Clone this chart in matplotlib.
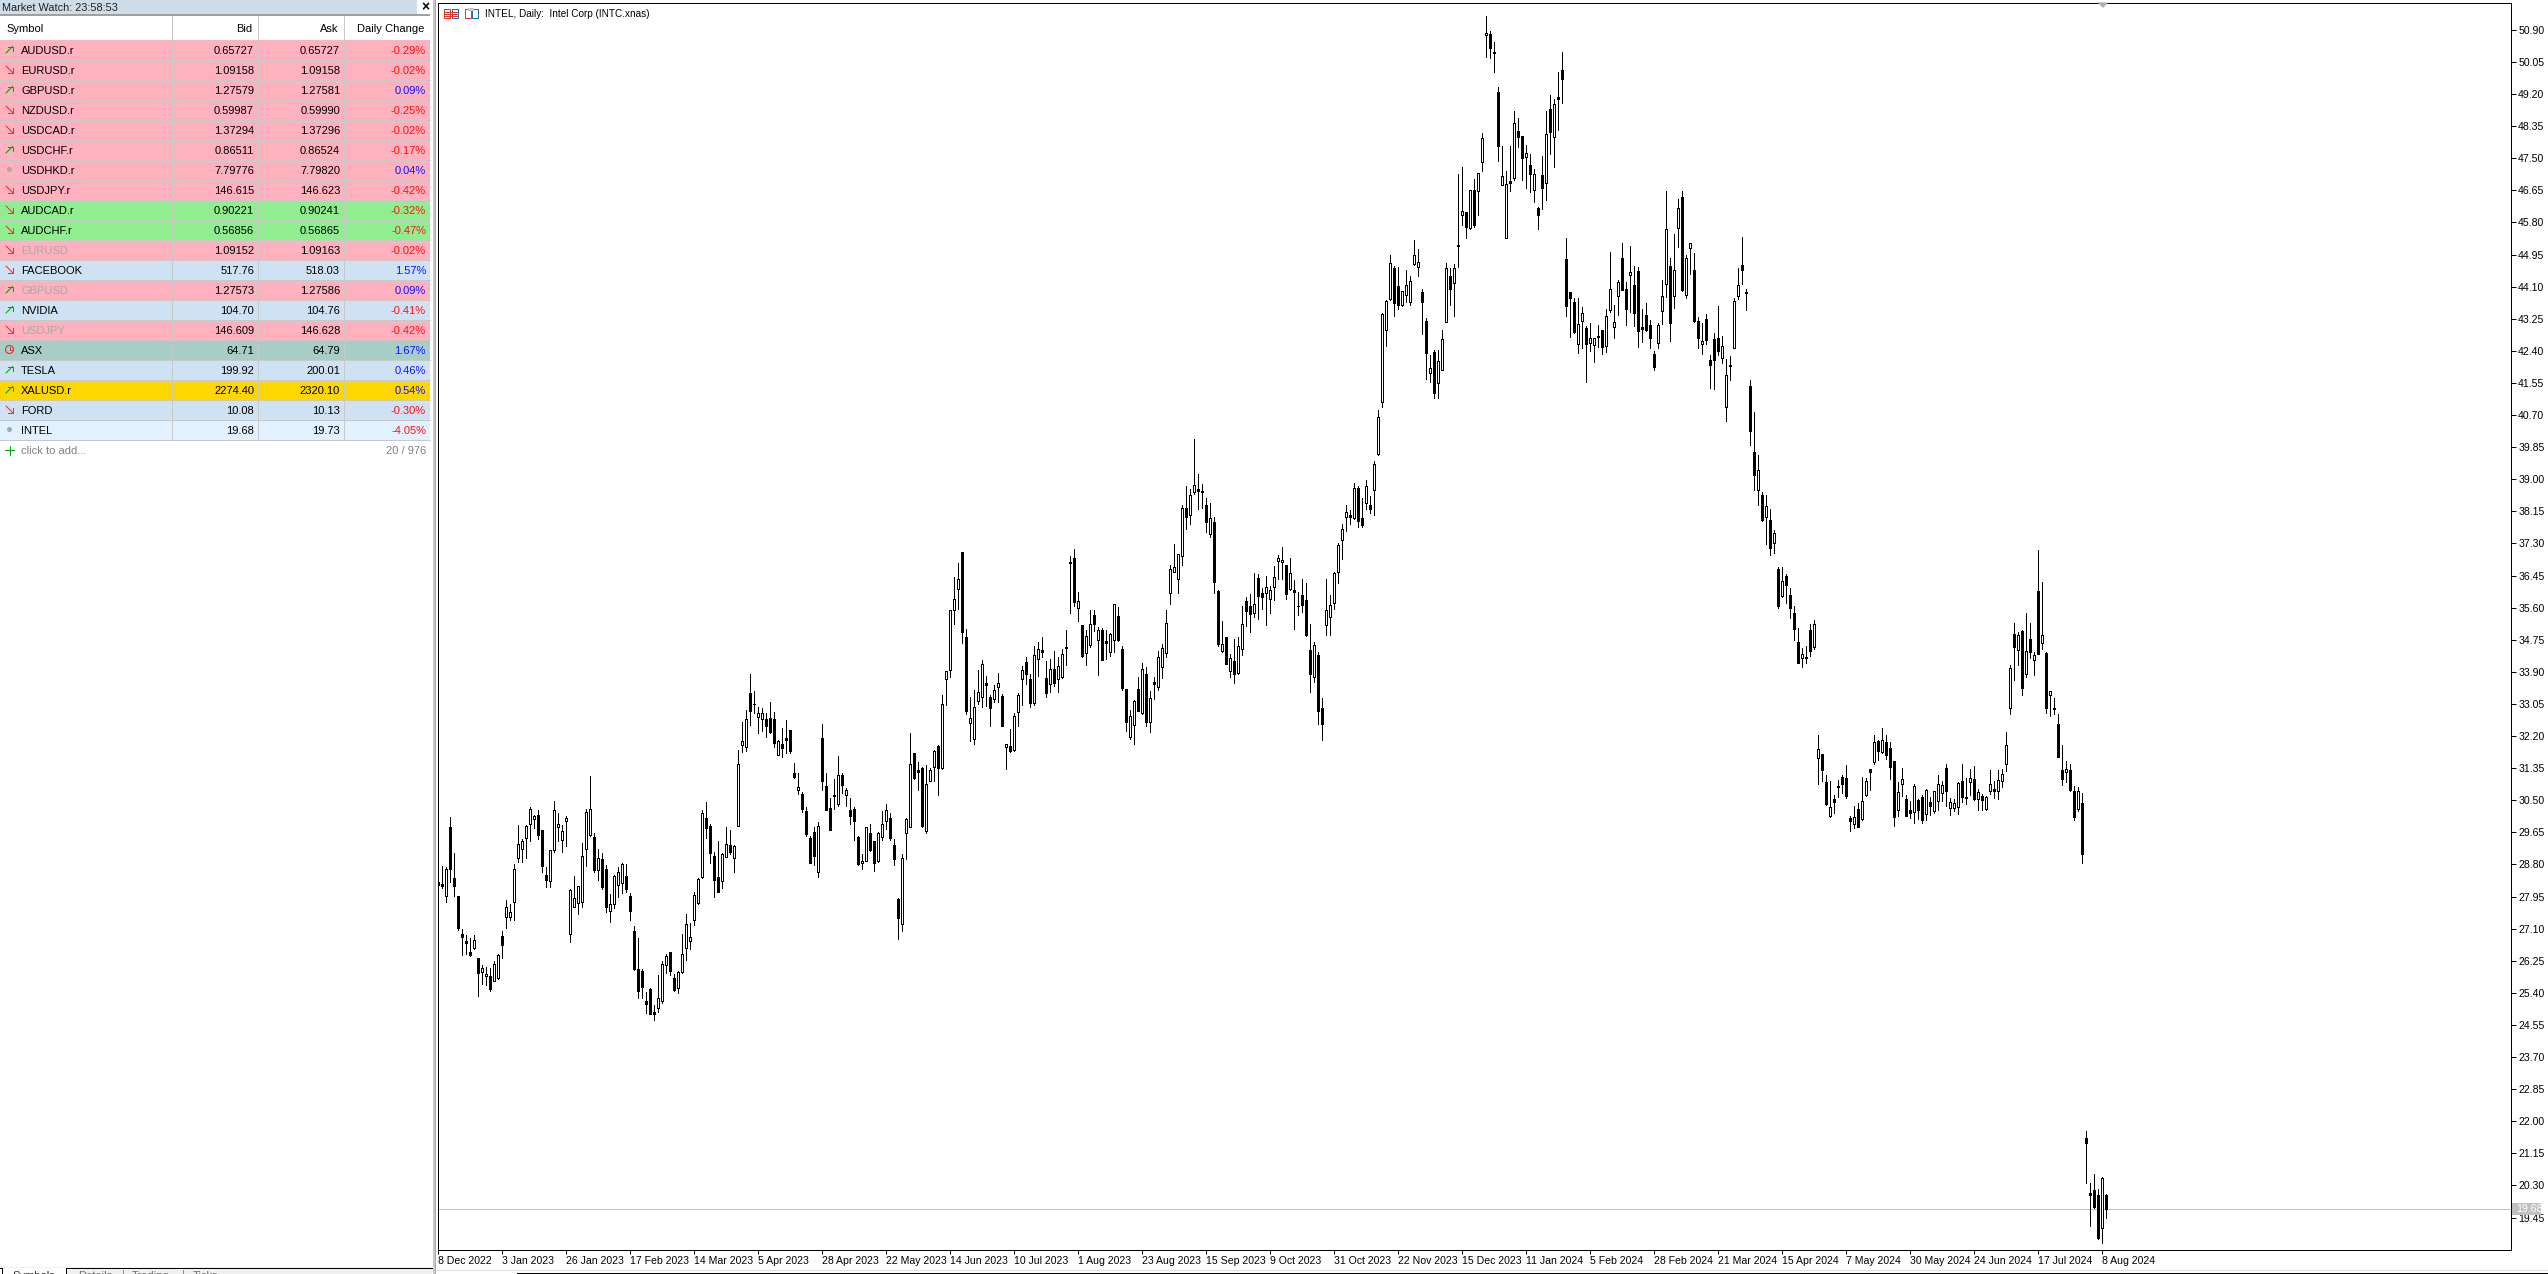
import matplotlib
matplotlib.use("Agg")
import matplotlib.pyplot as plt
from matplotlib.patches import Rectangle, Circle
import numpy as np

# market watch table
symbols = ["AUDUSD.r", "EURUSD.r", "GBPUSD.r", "NZDUSD.r", "USDCAD.r", "USDCHF.r", "USDHKD.r", "USDJPY.r",
           "AUDCAD.r", "AUDCHF.r", "EURUSD", "FACEBOOK", "GBPUSD", "NVIDIA", "USDJPY", "ASX", "TESLA",
           "XALUSD.r", "FORD", "INTEL"]
bids = ["0.65727", "1.09158", "1.27579", "0.59987", "1.37294", "0.86511", "7.79776", "146.615", "0.90221",
        "0.56856", "1.09152", "517.76", "1.27573", "104.70", "146.609", "64.71", "199.92", "2274.40", "10.08", "19.68"]
asks = ["0.65727", "1.09158", "1.27581", "0.59990", "1.37296", "0.86524", "7.79820", "146.623", "0.90241",
        "0.56865", "1.09163", "518.03", "1.27586", "104.76", "146.628", "64.79", "200.01", "2320.10", "10.13", "19.73"]
changes = ["-0.29%", "-0.02%", "0.09%", "-0.25%", "-0.02%", "-0.17%", "0.04%", "-0.42%", "-0.32%", "-0.47%",
           "-0.02%", "1.57%", "0.09%", "-0.41%", "-0.42%", "1.67%", "0.46%", "0.54%", "-0.30%", "-4.05%"]
icons = ["up", "down", "up", "down", "down", "up", "dot", "down", "down", "down",
         "down", "down", "up", "up", "down", "clock", "up", "up", "down", "dot"]
row_colors = ["#FFB1BD"] * 8 + ["#90EE90"] * 2 + ["#FFB1BD", "#CFE2F3", "#FFB1BD", "#CFE2F3", "#FFB1BD",
              "#A6CEC7", "#CFE2F3", "#FFD700", "#CFE2F3", "#E1F1FF"]
grey_symbols = ["EURUSD", "GBPUSD", "USDJPY"]

# candles, daily
opens = [28.34,28.27,27.97,29.79,28.44,27.96,26.97,26.76,26.47,26.59,
26.31,25.95,25.85,25.84,25.72,25.79,26.90,27.41,27.41,27.81,
28.97,29.21,29.49,29.88,29.99,30.10,29.71,28.51,28.36,29.18,
29.79,29.44,29.95,26.96,27.68,27.78,27.81,29.21,29.57,29.52,
28.66,28.94,28.67,27.57,27.74,28.26,28.32,28.49,27.96,27.03,
26.02,25.97,25.18,25.49,24.89,25.00,25.19,26.14,26.47,25.78,
25.53,25.95,26.60,26.76,27.32,27.78,28.47,30.04,29.83,29.02,
28.47,28.36,29.00,29.31,28.98,29.82,31.97,31.92,33.35,33.06,
32.71,32.66,32.65,32.69,32.65,31.71,31.98,32.14,32.36,31.21,
30.77,30.66,30.21,29.50,29.65,28.60,32.14,30.87,30.29,30.65,
30.39,31.16,30.64,30.23,30.27,29.52,28.84,28.89,29.62,29.42,
28.89,29.53,29.95,30.02,29.31,27.89,27.23,29.64,29.78,31.74,
31.29,31.34,29.68,31.02,31.38,31.94,31.36,33.70,33.94,35.55,
36.08,37.07,34.81,32.55,32.13,33.14,33.24,33.60,33.22,33.19,
33.51,33.26,31.90,31.94,31.84,32.84,33.70,34.15,33.70,33.08,
34.23,34.47,33.73,33.59,33.97,33.70,33.77,34.56,36.80,36.91,
35.60,35.14,34.39,34.61,35.41,34.74,35.01,34.72,34.42,34.74,
35.38,34.50,33.45,32.18,32.48,33.44,32.82,33.83,32.58,33.62,
33.51,34.04,34.41,35.98,36.53,36.35,36.96,38.24,38.05,38.67,
38.73,38.68,38.31,37.54,37.86,36.03,34.46,34.81,33.91,34.19,
33.87,34.50,35.77,35.65,35.45,36.39,35.98,35.98,35.84,36.14,
36.83,36.80,36.72,36.10,36.06,35.64,35.93,35.80,34.47,33.75,
34.34,32.94,35.15,35.34,35.71,36.55,37.38,38.01,38.05,37.98,
38.76,37.98,38.36,38.32,38.71,39.66,41.04,42.94,43.76,44.58,
44.12,43.62,43.87,43.68,44.69,44.61,43.96,43.19,41.80,42.37,
41.54,41.88,43.16,44.38,44.19,45.19,46.00,46.07,45.65,46.65,
46.64,47.39,50.75,50.78,50.30,49.25,46.80,45.39,46.89,46.98,
48.22,48.09,47.54,47.32,46.65,46.18,47.05,46.85,48.80,48.05,
49.12,49.84,44.82,43.95,43.68,42.59,43.20,43.00,42.61,42.56,
42.78,42.94,42.53,43.48,43.04,43.86,44.86,44.05,44.41,44.14,
44.51,43.03,43.34,43.08,42.31,42.62,43.46,44.16,44.64,43.84,
45.66,46.47,43.88,45.11,44.54,43.19,42.57,43.23,42.15,42.70,
42.75,42.22,40.90,42.02,42.48,43.86,44.66,43.95,41.48,39.72,
38.71,38.58,38.01,37.91,37.32,36.62,35.92,36.44,35.93,35.46,
34.69,34.27,34.29,35.01,34.57,31.61,31.72,30.98,30.08,30.53,
30.87,31.11,31.09,30.03,29.87,30.26,30.00,30.64,31.32,31.51,
32.07,31.79,32.04,31.88,31.54,30.24,30.93,30.53,30.24,30.18,
30.50,30.58,30.13,30.45,30.21,30.49,30.69,31.35,30.29,30.29,
30.33,31.01,30.58,30.98,31.06,30.53,30.61,30.26,30.74,30.79,
30.74,31.01,31.46,32.95,34.90,34.48,34.98,33.84,34.77,34.21,
36.04,34.66,34.40,33.28,32.93,32.52,31.30,31.24,31.30,30.74,
30.26,30.42,21.56,20.10,20.18,20.05,19.16,20.05]
closes = [28.25,28.24,28.67,28.69,28.24,27.11,26.88,26.72,26.40,26.80,
25.93,26.06,25.91,25.50,26.15,26.41,26.66,27.66,27.53,28.69,
29.33,29.42,29.83,30.28,30.07,29.58,28.76,28.38,29.17,30.25,
29.88,29.68,30.04,28.13,27.92,28.24,29.02,30.18,30.28,28.65,
28.98,28.20,27.68,27.74,28.49,28.59,28.82,28.14,27.57,26.03,
25.45,25.56,25.10,24.85,24.84,25.26,26.15,26.37,25.97,25.47,
25.94,26.44,27.23,26.88,27.98,28.41,30.15,29.77,29.11,28.38,
28.07,29.07,29.35,29.13,29.30,31.47,32.06,32.64,32.87,33.05,
32.80,32.80,32.47,32.31,32.02,32.07,31.87,32.09,31.80,31.11,
30.84,30.26,29.60,28.84,29.02,29.83,31.01,30.25,29.72,30.62,
31.18,30.90,30.77,30.09,29.95,28.81,28.90,29.79,29.18,28.85,
29.64,29.88,30.23,29.49,28.95,27.37,28.96,29.99,31.45,31.09,
31.25,29.81,30.92,31.29,31.81,31.34,33.04,33.91,35.55,35.82,
36.37,34.96,32.87,32.69,32.96,33.36,34.10,33.56,32.93,33.41,
33.60,32.47,31.98,31.80,32.72,33.28,33.94,33.83,33.08,34.34,
34.50,34.43,33.35,33.97,33.61,34.05,34.37,34.54,36.78,35.76,
35.77,34.33,34.84,35.16,35.17,35.00,34.22,34.67,34.90,35.69,
34.74,33.48,32.56,32.72,33.14,32.87,33.97,32.58,33.20,33.59,
34.28,34.52,35.19,36.62,36.67,37.01,38.23,37.99,38.57,38.84,
38.68,38.65,37.88,37.97,36.29,34.64,34.63,34.12,34.26,33.83,
34.59,35.16,35.52,35.42,35.69,35.92,35.87,36.14,36.06,36.40,
36.91,36.85,35.97,36.51,36.02,35.63,35.68,34.88,33.85,34.60,
32.85,32.53,35.53,35.66,36.51,37.25,37.68,38.13,38.01,38.76,
37.90,37.79,38.81,38.21,39.40,40.64,43.38,43.72,44.72,43.66,
43.62,43.98,44.13,44.24,44.93,44.74,43.70,42.33,41.94,41.27,
42.13,42.71,44.58,44.05,44.58,45.18,46.11,45.69,46.67,45.73,
47.10,48.03,50.81,50.43,50.29,47.83,47.02,46.83,46.85,48.42,
48.07,47.51,47.63,47.09,47.07,46.00,46.72,48.13,48.20,48.93,
49.08,49.60,43.59,43.80,42.90,43.10,43.39,42.59,42.75,42.75,
42.76,42.51,43.31,44.05,43.15,44.21,44.02,43.51,44.50,43.41,
42.93,42.97,42.96,42.75,41.98,43.08,43.84,45.62,43.14,44.53,
46.17,44.01,44.85,45.25,43.19,42.75,42.67,42.69,42.02,42.16,
42.40,42.54,41.77,42.00,43.73,44.13,44.55,43.94,40.28,39.11,
39.24,37.92,38.29,37.19,37.58,35.64,36.30,36.21,35.60,35.04,
34.14,34.36,34.27,34.45,35.16,31.85,31.31,30.40,30.31,30.46,
30.86,30.93,30.61,29.96,30.05,29.79,30.48,31.01,31.24,32.04,
31.80,32.09,31.70,31.39,30.06,30.72,31.06,30.08,30.16,30.87,
30.24,29.97,30.77,30.34,30.74,30.93,30.90,30.74,30.45,30.42,
30.95,30.58,30.56,31.09,30.53,30.72,30.50,30.58,30.93,30.74,
31.03,31.19,31.96,34.00,34.56,34.87,33.47,34.45,34.42,34.34,
34.37,34.87,32.94,33.39,32.91,31.64,31.06,31.32,30.77,30.05,
30.74,29.07,21.42,20.05,19.72,18.91,20.50,19.68]
highs = [28.43,28.76,28.74,30.05,29.09,27.96,27.10,26.93,26.84,26.93,
26.31,26.13,26.09,26.06,26.25,26.42,27.03,27.87,27.75,28.81,
29.84,29.46,29.84,30.33,30.10,30.24,29.71,28.72,29.19,30.47,
30.16,29.85,30.07,28.15,28.49,28.24,29.38,30.26,31.14,29.62,
29.22,29.09,28.78,28.01,28.51,28.72,28.84,28.80,28.03,27.16,
26.86,26.04,25.42,25.54,25.07,25.88,26.25,26.44,26.48,25.89,
25.97,26.95,27.48,27.26,28.06,28.44,30.23,30.44,29.87,29.13,
29.42,29.11,29.79,29.71,29.31,31.84,32.56,32.89,33.85,33.40,
32.96,32.93,32.80,33.09,32.84,32.09,32.42,32.62,32.36,31.48,
31.21,30.73,30.33,29.55,29.79,29.92,32.51,31.21,30.55,31.07,
31.68,31.21,30.82,30.55,30.32,29.55,29.07,29.79,29.86,29.42,
29.66,30.21,30.41,30.17,29.46,27.92,29.07,30.02,32.28,31.75,
31.52,31.37,31.43,31.36,31.83,31.96,33.28,33.92,35.55,36.42,
36.79,37.07,35.03,33.22,33.42,33.96,34.21,33.79,33.29,33.55,
33.86,33.31,31.99,32.38,32.80,33.33,34.05,34.29,33.83,34.58,
34.68,34.81,34.19,34.23,34.44,34.30,34.51,35.01,36.97,37.15,
36.02,35.14,35.01,35.54,35.54,35.08,35.05,35.01,34.93,35.69,
35.61,34.58,33.45,32.89,33.15,33.76,34.14,34.04,33.39,33.75,
34.44,34.64,35.54,36.73,37.28,37.02,38.32,38.82,38.73,40.07,
39.13,38.88,38.50,38.36,37.99,36.07,35.25,34.81,34.36,34.77,
34.81,35.65,35.87,35.95,36.51,36.49,36.11,36.43,36.17,36.71,
36.99,37.21,36.73,36.91,36.33,36.02,36.35,36.25,35.17,34.68,
34.42,33.20,36.35,35.94,36.54,37.30,37.81,38.31,38.18,38.89,
38.83,38.50,38.98,38.55,39.48,40.84,43.40,43.75,44.94,44.65,
44.61,43.98,44.54,44.37,45.34,45.10,44.05,43.26,42.29,42.42,
42.42,42.95,44.72,44.58,44.70,47.08,47.26,46.07,46.67,46.94,
47.11,48.16,51.27,50.86,50.58,49.38,47.82,47.15,47.82,48.74,
48.56,48.10,47.85,47.61,47.21,46.20,47.56,48.75,49.17,49.06,
49.78,50.31,45.39,43.95,43.79,43.79,43.55,43.06,43.13,42.75,
43.08,42.95,43.50,45.01,43.61,44.27,45.25,44.21,45.17,44.64,
44.62,43.52,43.66,43.21,42.39,43.14,44.27,46.62,44.85,45.49,
46.41,46.62,44.93,45.25,44.98,43.30,43.13,43.37,42.28,42.86,
43.58,42.79,42.19,42.26,43.81,44.58,45.41,44.05,41.62,40.78,
39.64,38.67,38.58,38.21,37.66,36.68,36.68,36.49,36.12,35.64,
35.06,34.53,34.58,35.17,35.27,32.22,31.72,31.17,31.02,30.64,
31.03,31.17,31.43,30.08,30.34,30.42,31.11,31.09,31.32,32.22,
32.09,32.41,32.22,32.04,31.54,30.98,31.35,30.64,30.48,30.93,
30.53,30.64,30.79,30.58,30.74,31.17,31.01,31.46,30.56,30.53,
30.98,31.46,31.09,31.32,31.40,30.79,30.66,30.61,31.30,31.01,
31.30,31.32,32.30,34.08,35.19,34.95,35.01,35.46,35.19,34.42,
37.13,36.28,34.42,33.39,33.20,32.78,31.96,31.54,31.46,30.87,
30.85,30.69,21.74,20.36,20.61,20.20,20.52,20.07]
lows = [28.23,28.17,27.81,28.34,27.97,27.06,26.40,26.44,26.38,26.56,
25.31,25.63,25.60,25.44,25.72,25.77,26.32,27.11,27.32,27.32,
28.86,28.86,28.97,29.42,29.77,29.47,28.60,28.21,28.21,29.12,
29.42,29.12,29.28,26.75,27.66,27.49,27.68,28.76,29.55,28.59,
28.38,28.15,27.53,27.28,27.64,27.94,28.04,28.07,27.32,26.00,
25.26,25.26,24.87,24.85,24.67,24.88,25.13,25.93,25.87,25.44,
25.40,25.93,26.26,26.55,27.20,27.75,28.43,29.51,28.85,27.94,
28.07,28.18,29.00,29.07,28.59,29.82,31.77,31.81,32.49,32.81,
32.28,32.34,32.18,32.27,31.90,31.69,31.65,31.74,31.75,31.09,
30.66,30.19,29.55,28.84,28.78,28.47,30.77,30.24,29.72,30.28,
30.34,30.70,30.34,29.87,29.44,28.78,28.67,28.89,29.16,28.62,
28.87,29.44,29.75,29.44,28.78,26.82,27.04,28.95,29.78,31.06,
30.77,29.79,29.64,31.01,31.01,30.63,31.33,33.02,33.77,35.17,
35.56,34.67,32.78,32.07,31.99,33.05,32.98,33.00,32.46,33.11,
33.10,32.47,31.33,31.79,31.81,32.46,33.02,33.58,32.98,33.03,
33.79,34.30,33.22,33.37,33.53,33.37,33.73,34.07,35.47,35.65,
35.25,34.28,34.08,34.57,34.97,33.82,34.20,34.23,34.33,34.43,
34.72,33.42,32.32,32.12,31.99,32.85,32.79,32.47,32.31,33.19,
33.42,33.74,34.28,35.70,36.53,36.00,36.73,37.68,37.81,38.61,
38.21,38.23,37.61,37.48,35.99,34.59,34.43,34.12,33.76,33.61,
33.85,34.35,35.12,34.96,35.36,35.30,35.57,35.14,35.46,35.79,
36.37,36.36,35.83,36.07,35.03,35.41,35.49,34.86,33.37,33.63,
32.53,32.10,34.88,34.88,35.57,36.26,36.90,37.63,37.82,37.94,
37.73,37.74,38.21,38.10,38.04,39.65,40.90,42.53,43.75,43.31,
43.52,43.59,43.68,43.61,44.66,44.39,42.85,41.65,41.58,41.16,
41.16,41.88,43.16,43.61,43.31,44.63,45.73,45.39,45.62,45.69,
45.99,47.16,50.19,50.16,49.77,47.43,46.80,45.39,46.64,46.92,
47.80,46.92,46.71,46.61,46.35,45.62,46.15,46.39,47.61,47.27,
48.25,48.97,43.32,42.77,42.86,42.35,42.48,41.58,42.40,42.11,
42.51,42.32,42.37,43.43,42.75,43.35,44.02,43.08,43.42,43.05,
42.50,42.64,42.93,42.47,41.89,42.48,43.12,43.83,42.67,43.54,
45.16,43.99,43.80,44.43,43.17,42.48,42.32,42.59,41.42,41.39,
42.29,42.08,40.55,41.62,42.48,43.78,44.18,43.48,39.91,38.71,
38.32,37.90,37.28,36.99,37.05,35.60,35.89,35.73,35.32,34.74,
34.14,34.03,34.13,34.32,34.50,30.93,31.01,30.37,30.05,30.17,
30.58,30.69,30.56,29.68,29.76,29.79,29.97,30.61,30.77,31.46,
31.56,31.74,31.59,31.06,29.81,30.08,30.61,30.08,30.03,29.89,
30.00,29.89,29.97,30.11,30.16,30.24,30.48,30.34,30.11,30.21,
30.13,30.45,30.40,30.64,30.50,30.24,30.24,30.24,30.66,30.56,
30.53,30.85,31.27,32.78,33.68,34.08,33.28,33.76,34.26,33.81,
34.37,34.50,32.81,32.73,32.78,31.64,30.90,30.98,30.74,29.97,
30.21,28.83,20.36,19.23,19.69,18.88,18.78,19.44]

date_labels = ["8 Dec 2022", "3 Jan 2023", "26 Jan 2023", "17 Feb 2023", "14 Mar 2023", "5 Apr 2023", "28 Apr 2023",
               "22 May 2023", "14 Jun 2023", "10 Jul 2023", "1 Aug 2023", "23 Aug 2023", "15 Sep 2023", "9 Oct 2023",
               "31 Oct 2023", "22 Nov 2023", "15 Dec 2023", "11 Jan 2024", "5 Feb 2024", "28 Feb 2024", "21 Mar 2024",
               "15 Apr 2024", "7 May 2024", "30 May 2024", "24 Jun 2024", "17 Jul 2024", "8 Aug 2024"]
bid_now = 19.68

W, H = 2548, 1274
PX = 0.72  # one pixel in points at dpi 100
plt.rcParams["font.family"] = ["Liberation Sans", "DejaVu Sans"]
axis_font = ["Liberation Sans Narrow", "Liberation Sans"]

fig = plt.figure(figsize=(W / 100, H / 100), dpi=100, facecolor="white")

# chart, x in bars (4 px each)
L, R, T, B = 438, 2511, 3, 1250
ax = fig.add_axes([L / W, 1 - B / H, (R - L) / W, (B - T) / H])
ax.set_xlim(-0.1, (R - L) / 4 - 0.1)
ax.set_ylim(18.59, 51.61)

x = np.arange(len(opens))
o, c, hi, lo = map(np.array, (opens, closes, highs, lows))
up = c >= o
ax.axhline(bid_now, color="#C0C0C0", lw=PX, zorder=1, antialiased=False)
ax.vlines(x, lo, hi, color="black", lw=PX, zorder=2, antialiased=False)
ax.bar(x, np.abs(c - o), 0.5, np.minimum(o, c), color=np.where(up, "white", "black"), edgecolor="black",
       linewidth=PX, zorder=3, antialiased=False)

ax.yaxis.tick_right()
ax.set_yticks(19.45 + 0.85 * np.arange(38))
ax.set_yticklabels(["%.2f" % t for t in 19.45 + 0.85 * np.arange(38)], family=axis_font, fontsize=7.6)
ax.tick_params(axis="y", length=3.6, width=PX, pad=1.5)
ax.set_xticks(np.arange(len(date_labels)) * 16)
ax.set_xticklabels(date_labels, family=axis_font, fontsize=7.6, ha="left")
ax.tick_params(axis="x", length=3.0, width=PX, pad=1.5)
for s in ax.spines.values():
    s.set_linewidth(PX)

ax.text(0.0227, 0.9915, "INTEL, Daily:  Intel Corp (INTC.xnas)", transform=ax.transAxes, fontsize=7.2,
        family=axis_font, va="center", ha="left", color="black", zorder=5)

# overlay for everything in screen pixels
ov = fig.add_axes([0, 0, 1, 1], facecolor="none")
ov.set_xlim(0, W)
ov.set_ylim(H, 0)
ov.axis("off")
ov.patch.set_visible(False)


def box(x0, y0, x1, y1, fc, ec="none", z=1):
    ov.add_patch(Rectangle((x0, y0), x1 - x0, y1 - y0, facecolor=fc, edgecolor=ec, lw=PX, zorder=z,
                           antialiased=False))


def hline(y, x0, x1, col, lw=PX, z=2):
    ov.plot([x0, x1], [y, y], color=col, lw=lw, zorder=z, antialiased=False, solid_capstyle="butt")


def vline(x0, y0, y1, col, lw=PX, z=2):
    ov.plot([x0, x0], [y0, y1], color=col, lw=lw, zorder=z, antialiased=False, solid_capstyle="butt")


# bid label on the price scale
box(2512, 1203, 2541, 1215, "#C0C0C0", z=6)
ov.text(2516, 1209.5, "19.68", color="white", family=axis_font, fontsize=7.6, va="center", zorder=7)
# small grey marker at the top of the chart
ov.fill([2099, 2107, 2103], [3, 3, 7], color="#B0B0B0", zorder=4)

# chart icons
for x0, col in ((443.5, "#E03A2E"), (464.5, "#E03A2E")):
    box(x0, 9, x0 + 6, 18, "white", col, z=4)
for x0 in (451.5, 471.5):
    box(x0, 9, x0 + 6, 18, "white", "#1F6FB5", z=4)
for y0 in (11.5, 13.5, 15.5):
    hline(y0, 444, 457, "#E03A2E", z=5)
box(468, 8, 474, 11, "#C8C8C8", z=5)

# left panel
box(0, 0, 417, 15, "#CFDDE9")
hline(15, 0, 430, "#A0A0A0", lw=PX * 2)
ov.text(2, 8, "Market Watch: 23:58:53", fontsize=7.8, va="center", color="#202020")
ov.text(425, 7, "×", fontsize=10, weight="bold", va="center", ha="center", color="black")
ov.text(6, 28.5, "Symbol", fontsize=8, va="center")
for xr, name in ((252, "Bid"), (338, "Ask"), (424, "Daily Change")):
    ov.text(xr, 28.5, name, fontsize=8, va="center", ha="right")

ROW = 20
TOP = 40
for i, sym in enumerate(symbols):
    y0 = TOP + i * ROW
    ym = y0 + 10.5
    box(0, y0, 430, y0 + ROW, row_colors[i])
    hline(y0 + ROW - 0.5, 0, 430, "#C8C8C8")
    sym_col = "#A8A8A8" if sym in grey_symbols else "black"
    ov.text(21, ym, sym, fontsize=8, va="center", color=sym_col, zorder=3)
    ov.text(254, ym, bids[i], fontsize=8, va="center", ha="right", zorder=3)
    ov.text(340, ym, asks[i], fontsize=8, va="center", ha="right", zorder=3)
    neg = changes[i].startswith("-")
    ov.text(426, ym, changes[i], fontsize=8, va="center", ha="right", color="#FF1010" if neg else "#1010FF", zorder=3)
    kind = icons[i]
    iy = ym - 1
    if kind == "up":
        ov.plot([6, 12.5], [iy + 3.5, iy - 3], color="#00A000", lw=0.7, zorder=3)
        ov.plot([8, 12.5, 12.5], [iy - 3, iy - 3, iy + 1.5], color="#00A000", lw=0.7, zorder=3)
    elif kind == "down":
        ov.plot([6, 12.5], [iy - 3.5, iy + 3], color="#E03030", lw=0.7, zorder=3)
        ov.plot([8, 12.5, 12.5], [iy + 3, iy + 3, iy - 1.5], color="#E03030", lw=0.7, zorder=3)
    elif kind == "dot":
        ov.add_patch(Circle((9.5, iy), 1.8, color="#A8A8A8", zorder=3))
    else:
        ov.add_patch(Circle((9.5, iy), 4, facecolor="none", edgecolor="#E03030", lw=0.8, zorder=3))
        ov.plot([9.5, 9.5, 12], [iy - 2.5, iy, iy], color="#E03030", lw=0.7, zorder=3)

for xs in (171.5, 257.5, 343.5):
    vline(xs, 16, TOP + 20 * ROW, "#C8C8C8", z=2)

ov.plot([5, 14], [450, 450], color="#00A000", lw=0.7, zorder=3)
ov.plot([9.5, 9.5], [445.5, 454.5], color="#00A000", lw=0.7, zorder=3)
ov.text(21, 451, "click to add...", fontsize=8, va="center", color="#808080")
ov.text(426, 451, "20 / 976", fontsize=8, va="center", ha="right", color="#808080")

# splitter and the strip at the bottom
box(433, 0, 436, 1274, "#C8C8C8")
vline(434.5, 0, 1274, "#A8A8A8")
hline(1267, 0, 433, "#F0F0F0", z=1)
box(66, 1268, 432, 1274, "#F0F0F0", z=1)
hline(1268, 66, 432, "black")
vline(66, 1268, 1274, "black")
vline(2, 1268, 1274, "black")
hline(1268, 0, 2, "black")
hline(1273, 517, W, "black")
hline(1270, 437, W, "#E0E0E0")
clip = Rectangle((0, 1268), 433, 6, transform=ov.transData)
for xt, name in ((12, "Symbols"), (78, "Details"), (132, "Trading"), (193, "Ticks")):
    t = ov.text(xt, 1276, name, fontsize=8, va="center", color="#303030" if xt == 12 else "#707070")
    t.set_clip_path(clip)
for xs in (122.5, 182.5):
    vline(xs, 1270, 1274, "#909090")

fig.savefig("out.png", dpi=100)
